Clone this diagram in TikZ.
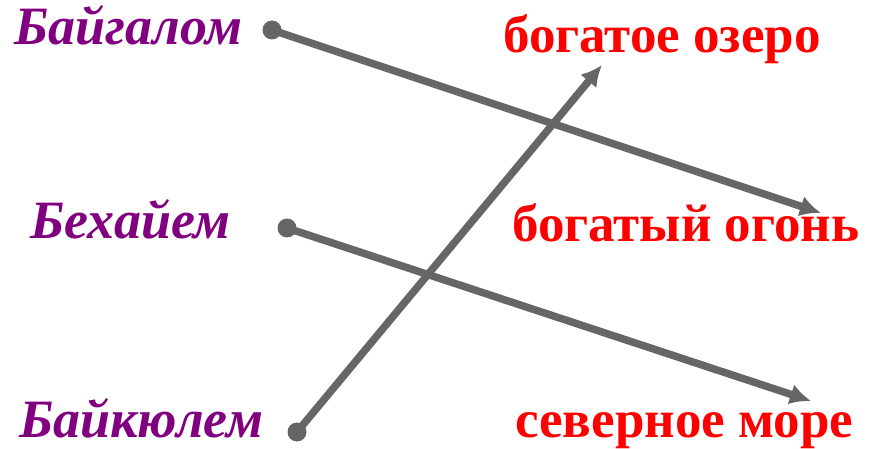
\documentclass[tikz,border=0pt]{standalone}
\usepackage{fontspec}
\setmainfont{Liberation Serif}
\usepackage{tikz}
\usetikzlibrary{arrows.meta,positioning}
\definecolor{wordpurple}{RGB}{128,0,128}
\definecolor{wordred}{RGB}{255,0,0}
\definecolor{linkgray}{RGB}{102,102,102}

\begin{document}
\begin{tikzpicture}[x=1pt,y=1pt,
    word/.style={inner sep=0pt,anchor=base west,text=wordpurple,
      font=\fontsize{54}{58}\selectfont\bfseries\itshape},
    meaning/.style={inner sep=0pt,anchor=base west,text=wordred,
      font=\fontsize{53}{57}\selectfont\bfseries},
    dot/.style={circle,fill=linkgray,inner sep=0pt,minimum size=19pt},
    link/.style={draw=linkgray,line width=7.5pt,
      -{Latex[length=21pt,width=21pt]}}]
    \useasboundingbox (0,0) rectangle (871,448);
    % names on the left
    \node[word] (baigalom) at (14,403) {Байгалом};
    \node[word] (behaiem) at (30,210) {Бехайем};
    \node[word] (baikyulem) at (19,11) {Байкюлем};
    % meanings on the right
    \node[meaning] (lake) at (503,395) {богатое озеро};
    \node[meaning] (fire) at (512,206) {богатый огонь};
    \node[meaning] (sea) at (515,11) {северное море};
    % dots and arrow ends
    \node[dot] (d1) at (272,418) {};
    \node[dot] (d2) at (287,220) {};
    \node[dot] (d3) at (297,16) {};
    \coordinate (e1) at (821,235);
    \coordinate (e2) at (811,47);
    \coordinate (e3) at (602,383);
    \draw[link] (d1.center) -- (e1);
    \draw[link] (d2.center) -- (e2);
    \draw[link] (d3.center) -- (e3);
\end{tikzpicture}
\end{document}
